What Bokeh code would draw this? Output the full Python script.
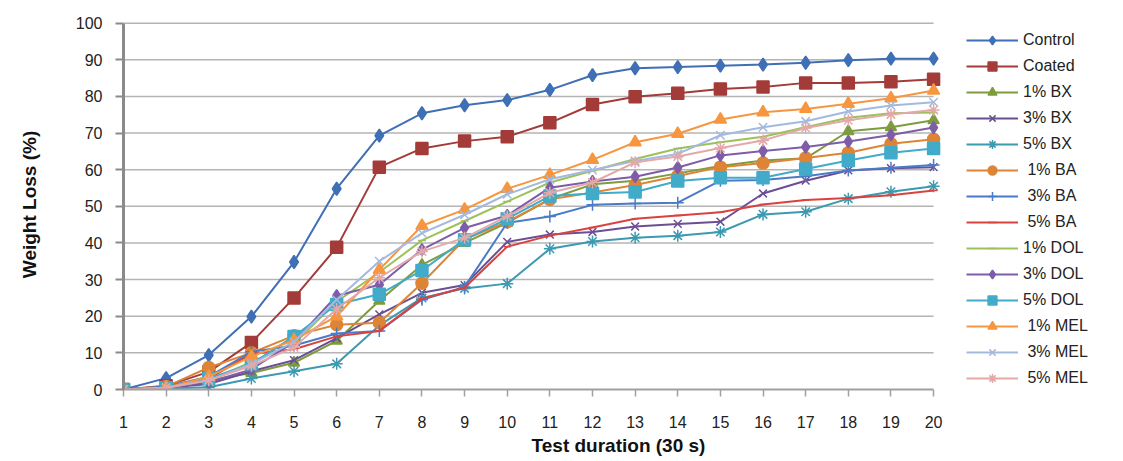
from bokeh.plotting import figure
from bokeh.models import Range1d, Legend, LegendItem, Title
from bokeh.embed import file_html
from bokeh.resources import INLINE

# ---------------- data ----------------
test_duration = list(range(1, 21))
y_ticks = list(range(0, 101, 10))

series_names = ["Control", "Coated", "1% BX", "3% BX", "5% BX",
                "\u00a01% BA", "\u00a03% BA", "\u00a05% BA",
                "1% DOL", "3% DOL", "5% DOL",
                "\u00a01% MEL", "\u00a03% MEL", "\u00a05% MEL"]

control = [0, 3.1, 9.4, 19.9, 34.8, 54.8, 69.3, 75.4, 77.6, 79.0, 81.8, 85.8, 87.7, 88.0, 88.4, 88.7, 89.2, 89.9, 90.3, 90.3]
coated = [0, 1.0, 4.8, 12.8, 25.0, 38.8, 60.7, 65.8, 67.8, 69.0, 72.8, 77.8, 79.9, 80.9, 82.0, 82.6, 83.7, 83.7, 84.0, 84.7]
bx1 = [0, 0.5, 2.5, 4.5, 7.3, 13.3, 24.2, 34.0, 40.0, 45.5, 52.0, 56.0, 57.0, 59.0, 61.0, 62.5, 63.1, 70.5, 71.6, 73.5]
bx3 = [0, 0.5, 1.5, 5.0, 8.0, 14.0, 20.5, 26.4, 28.5, 40.3, 42.3, 43.0, 44.5, 45.2, 45.8, 53.5, 57.0, 59.8, 60.4, 60.7]
bx5 = [0, 0.3, 0.6, 3.0, 5.0, 7.0, 17.5, 25.0, 27.6, 28.9, 38.4, 40.4, 41.4, 42.0, 43.0, 47.8, 48.5, 52.1, 54.0, 55.5]
ba1 = [0, 0.8, 6.0, 10.0, 14.7, 17.7, 18.2, 29.0, 41.0, 45.8, 51.9, 53.8, 55.8, 58.3, 60.7, 61.8, 63.2, 64.6, 67.1, 68.3]
ba3 = [0, 0.8, 3.5, 10.3, 12.0, 15.3, 16.0, 24.5, 28.0, 45.5, 47.2, 50.4, 50.8, 51.0, 57.0, 57.2, 58.2, 59.8, 60.5, 61.3]
ba5 = [0, 0.5, 3.0, 9.7, 11.0, 14.5, 16.0, 24.8, 27.8, 39.0, 42.0, 44.2, 46.6, 47.5, 48.4, 50.5, 51.7, 52.3, 53.0, 54.3]
dol1 = [0, 0.5, 2.5, 7.5, 12.5, 24.0, 32.0, 40.7, 46.0, 51.3, 56.5, 59.7, 62.9, 65.8, 67.5, 69.0, 71.6, 74.2, 75.4, 75.6]
dol3 = [0, 0.5, 2.0, 5.5, 13.0, 25.6, 28.6, 38.2, 44.1, 47.5, 55.1, 56.8, 58.1, 60.6, 63.9, 65.1, 66.2, 67.7, 69.5, 71.5]
dol5 = [0, 0.5, 3.0, 7.0, 14.5, 23.2, 26.0, 32.5, 40.9, 46.6, 52.8, 53.5, 53.9, 56.9, 57.8, 57.8, 60.2, 62.5, 64.6, 65.8]
mel1 = [0, 0.5, 3.5, 9.0, 13.5, 20.0, 32.7, 44.7, 49.1, 54.8, 58.6, 62.7, 67.5, 69.8, 73.7, 75.7, 76.6, 78.0, 79.5, 81.6]
mel3 = [0, 0.5, 2.5, 7.0, 13.0, 24.5, 35.0, 42.7, 47.7, 53.3, 57.4, 59.9, 62.4, 64.3, 69.4, 71.6, 73.2, 75.9, 77.5, 78.4]
mel5 = [0, 0.5, 2.5, 6.5, 11.5, 22.0, 30.5, 37.7, 41.4, 47.3, 53.7, 56.5, 62.0, 63.6, 65.9, 68.0, 71.4, 73.5, 75.1, 76.3]

all_series = [control, coated, bx1, bx3, bx5, ba1, ba3, ba5,
              dol1, dol3, dol5, mel1, mel3, mel5]

# ---------------- styles ----------------
colors = ["#3F6FB5", "#A33B38", "#7E9C3E", "#6B4F93", "#3C9AB0",
          "#DD8436", "#4A7BC8", "#D9423F",
          "#9CC15A", "#7E5DA8", "#41ABC9",
          "#F7963F", "#A3B9E0", "#E3A9A9"]
markers = ["diamond", "square", "triangle", "x", "asterisk",
           "circle", "cross", "dash",
           "dash", "diamond", "square",
           "triangle", "x", "asterisk"]
sizes = [13, 12, 11, 11, 12, 12, 12, 7, 8, 12, 12, 12, 12, 12]

FONT = "Liberation Sans"

p = figure(width=1123, height=461,
           x_range=Range1d(1, 24.22), y_range=Range1d(0, 101),
           output_backend="svg", toolbar_location=None,
           min_border_left=123, min_border_right=10,
           min_border_top=19, min_border_bottom=72)
p.outline_line_color = None
p.background_fill_color = "white"
p.border_fill_color = "white"
p.xgrid.visible = False
p.ygrid.visible = False

# horizontal gridlines between first and last category
grid_y = y_ticks[1:]
p.segment(x0=[test_duration[0]] * len(grid_y), y0=grid_y,
          x1=[test_duration[-1]] * len(grid_y), y1=grid_y,
          line_color="#b4b4b4", line_width=1.5, level="underlay")

# axes
p.yaxis.bounds = (y_ticks[0], y_ticks[-1])
p.yaxis.ticker = y_ticks
p.yaxis.axis_line_color = "#8a8a8a"
p.yaxis.axis_line_width = 3
p.yaxis.major_tick_line_color = "#8a8a8a"
p.yaxis.major_tick_line_width = 2
p.yaxis.major_tick_out = 8
p.yaxis.major_tick_in = 0
p.yaxis.minor_tick_line_color = None
p.yaxis.major_label_standoff = 13
p.yaxis.major_label_text_font = FONT
p.yaxis.major_label_text_font_size = "16px"
p.yaxis.major_label_text_color = "#222222"
p.yaxis.axis_label = "Weight Loss (%)"
p.yaxis.axis_label_text_font = FONT
p.yaxis.axis_label_text_font_style = "bold"
p.yaxis.axis_label_text_font_size = "19px"
p.yaxis.axis_label_text_color = "#111111"
p.yaxis.axis_label_standoff = 33

p.xaxis.bounds = (test_duration[0], test_duration[-1])
p.xaxis.ticker = test_duration
p.xaxis.axis_line_color = "#a0a0a0"
p.xaxis.axis_line_width = 2
p.xaxis.major_tick_line_color = "#a0a0a0"
p.xaxis.major_tick_line_width = 1.5
p.xaxis.major_tick_out = 7
p.xaxis.major_tick_in = 0
p.xaxis.minor_tick_line_color = None
p.xaxis.major_label_standoff = 19
p.xaxis.major_label_text_font = FONT
p.xaxis.major_label_text_font_size = "16px"
p.xaxis.major_label_text_color = "#222222"

xtitle = Title(text="Test duration (30 s)", align="center", offset=-89,
               text_font=FONT, text_font_style="bold", text_font_size="19px",
               text_color="#111111", standoff=4)
p.add_layout(xtitle, "below")

items = []
for name, vals, c, m, s in zip(series_names, all_series, colors, markers, sizes):
    lr = p.line(test_duration, vals, line_color=c, line_width=2)
    sr = p.scatter(test_duration, vals, marker=m, size=s,
                   fill_color=c, line_color=c, line_width=1.5)
    items.append(LegendItem(label=name, renderers=[lr, sr]))

legend = Legend(items=items, location=(843, 0),
                border_line_color=None, background_fill_alpha=0,
                label_text_font=FONT, label_text_font_size="16px",
                label_text_color="#222222",
                glyph_width=52, glyph_height=22, label_height=22,
                spacing=4, padding=5, label_standoff=5, margin=0)
p.add_layout(legend, "center")

open("out.html", "w").write(file_html(p, INLINE))
